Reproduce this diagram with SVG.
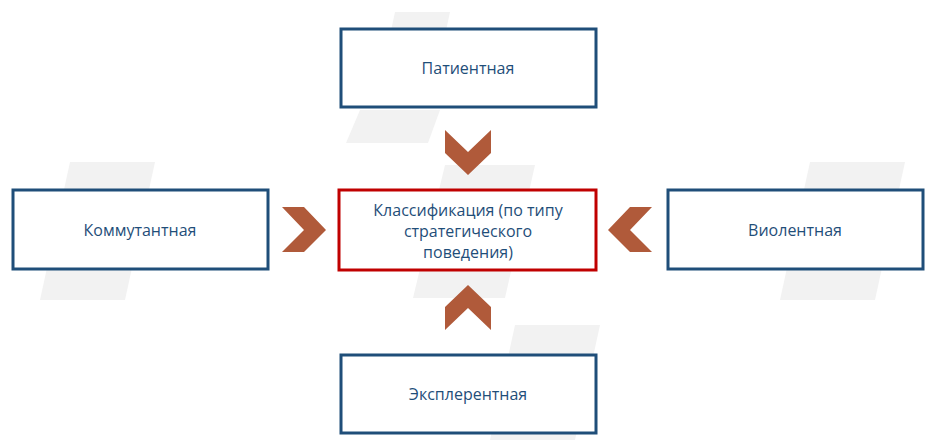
<svg xmlns="http://www.w3.org/2000/svg" width="947" height="448" viewBox="0 0 947 448">
<style>
.bg{fill:#f2f2f2}
.box{fill:#fff;stroke:#1f4e79;stroke-width:3}
.main{fill:#fff;stroke:#c00000;stroke-width:3}
.t{font-family:"Open Sans","Noto Sans",sans-serif;font-size:16px;fill:#1f4e79;text-anchor:middle}
.ch{fill:#b05a3a}
</style>
<rect width="947" height="448" fill="#fff"/>
<g id="background">
<polygon class="bg" points="395,12 450,12 430,105 375,105"/>
<polygon class="bg" points="360,110 440,110 428,143 346,143"/>
<polygon class="bg" points="445,165 535,165 505,298 413,298"/>
<polygon class="bg" points="70,162 155,162 125,300 40,300"/>
<polygon class="bg" points="810,162 905,162 875,300 780,300"/>
<polygon class="bg" points="515,325 600,325 575,440 490,440"/>
</g>
<g id="connectors">
<polygon class="ch" points="445,130 468,152 491,130 491,153 468,175 445,153"/>
<polygon class="ch" points="282,207 304,207 326,230 304,252 282,252 304,230"/>
<polygon class="ch" points="652,207 630,207 608,230 630,252 652,252 630,230"/>
<polygon class="ch" points="445,330 468,308 491,330 491,307 468,285 445,307"/>
</g>
<g id="top"><rect class="box" x="341" y="29" width="255" height="78"/><text class="t" x="468" y="74">Патиентная</text></g>
<g id="left"><rect class="box" x="13" y="190" width="255" height="79"/><text class="t" x="140" y="236">Коммутантная</text></g>
<g id="right"><rect class="box" x="668" y="190" width="255" height="79"/><text class="t" x="795" y="236">Виолентная</text></g>
<g id="bottom"><rect class="box" x="341" y="355" width="255" height="78"/><text class="t" x="468" y="400">Эксплерентная</text></g>
<g id="center"><rect class="main" x="339" y="190" width="257" height="80"/>
<text class="t" x="468" y="216">Классификация (по типу</text>
<text class="t" x="468" y="237">стратегического</text>
<text class="t" x="468" y="258">поведения)</text></g>
</svg>
